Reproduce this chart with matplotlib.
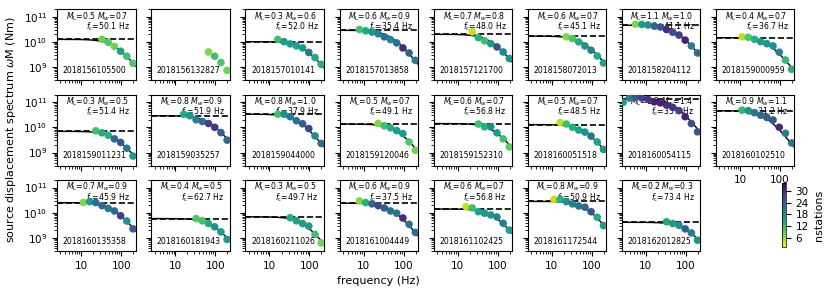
import numpy as np
import matplotlib
matplotlib.use("Agg")
import matplotlib.pyplot as plt
from matplotlib.colors import Normalize
from matplotlib.ticker import FuncFormatter, NullFormatter

# band centre frequencies (Hz) shared by all events
freqs = [2.7, 3.9, 5.5, 7.9, 11.3, 16.2, 23.1, 33.0, 47.2, 67.5, 96.5, 138, 197]

event_ids = ["2018156105500", "2018156132827", "2018157010141", "2018157013858",
             "2018157121700", "2018158072013", "2018158204112", "2018159000959",
             "2018159011231", "2018159035257", "2018159044000", "2018159120046",
             "2018159152310", "2018160051518", "2018160054115", "2018160102510",
             "2018160135358", "2018160181943", "2018160211026", "2018161004449",
             "2018161102425", "2018161172544", "2018162012825"]

ml = [0.5, None, 0.3, 0.6, 0.7, 0.6, 1.1, 0.4,
      0.3, 0.8, 0.8, 0.5, 0.6, 0.5, 1.3, 0.9,
      0.7, 0.4, 0.3, 0.6, 0.6, 0.8, 0.2]
mw = [0.7, None, 0.6, 0.9, 0.8, 0.7, 1.0, 0.7,
      0.5, 0.9, 1.0, 0.7, 0.7, 0.7, 1.4, 1.1,
      0.9, 0.5, 0.5, 0.9, 0.7, 0.9, 0.3]
fc = [50.1, None, 52.0, 35.4, 48.0, 45.1, 41.1, 36.7,
      51.4, 51.9, 37.9, 49.1, 56.8, 48.5, 35.8, 31.2,
      45.9, 62.7, 49.7, 37.5, 56.8, 50.9, 73.4]
# log10 of the plateau level (Nm)
omega0_log = [10.10, None, 10.01, 10.46, 10.30, 10.23, 10.66, 10.17,
              9.84, 10.46, 10.52, 10.13, 10.15, 10.11, 11.14, 10.66,
              10.40, 9.77, 9.84, 10.38, 10.15, 10.45, 9.62]

# log10 spectral values per event (highest bands, ending at 197 Hz)
spec_log = [
    [10.10, 9.98, 9.82, 9.63, 9.43, 9.15],
    [9.60, 9.43, 9.18, 8.87],
    [10.10, 10.01, 9.92, 9.84, 9.76, 9.58, 9.38, 9.11],
    [10.49, 10.44, 10.39, 10.32, 10.20, 10.09, 9.96, 9.76, 9.56, 9.27],
    [10.40, 10.17, 10.04, 9.93, 9.80, 9.60, 9.34],
    [10.20, 10.13, 10.00, 9.84, 9.67, 9.44, 9.16],
    [10.70, 10.69, 10.67, 10.63, 10.59, 10.49, 10.38, 10.27, 10.07, 9.84, 9.56],
    [10.20, 10.18, 10.10, 10.01, 9.93, 9.84, 9.59, 9.28, 8.91],
    [9.86, 9.78, 9.68, 9.54, 9.40, 9.17, 8.86],
    [10.52, 10.46, 10.30, 10.23, 10.15, 10.00, 9.79, 9.49],
    [10.52, 10.52, 10.42, 10.26, 10.14, 9.95, 9.66, 9.36],
    [10.15, 10.06, 9.98, 9.87, 9.75, 9.42, 9.09],
    [10.13, 10.02, 10.02, 9.78, 9.54, 9.22],
    [10.19, 10.13, 10.00, 9.89, 9.81, 9.65, 9.42, 9.12],
    [10.99, 11.16, 11.19, 11.16, 11.11, 11.01, 10.97, 10.88, 10.79, 10.66, 10.42, 10.15, 9.82],
    [10.68, 10.66, 10.58, 10.48, 10.39, 10.29, 10.00, 9.76, 9.38],
    [10.41, 10.44, 10.40, 10.28, 10.17, 10.07, 9.88, 9.67, 9.36],
    [9.77, 9.68, 9.57, 9.44, 9.24, 8.94],
    [9.80, 9.68, 9.57, 9.47, 9.14, 8.80],
    [10.47, 10.40, 10.35, 10.28, 10.19, 10.07, 9.98, 9.79, 9.54, 9.22],
    [10.24, 10.19, 10.04, 9.98, 9.91, 9.83, 9.58, 9.31],
    [10.53, 10.53, 10.44, 10.35, 10.27, 10.22, 10.04, 9.82, 9.49],
    [9.64, 9.57, 9.50, 9.36, 9.20, 8.91],
]

# number of stations per band
nsta = [
    [8, 10, 8, 15, 11, 10],
    [7, 11, 10, 8],
    [11, 16, 16, 15, 16, 21, 14, 13],
    [11, 14, 17, 19, 22, 19, 22, 30, 24, 20],
    [4, 13, 11, 16, 26, 19, 17],
    [7, 10, 14, 17, 20, 14, 15],
    [7, 15, 17, 23, 25, 30, 26, 28, 31, 20, 23],
    [4, 10, 13, 16, 17, 18, 20, 12, 13],
    [11, 14, 13, 23, 25, 21, 16],
    [14, 17, 20, 22, 28, 29, 24, 23],
    [11, 17, 20, 22, 24, 27, 18, 22],
    [7, 11, 13, 16, 16, 10, 8],
    [11, 13, 18, 16, 11, 9],
    [4, 11, 13, 15, 17, 21, 15, 17],
    [16, 20, 25, 28, 29, 31, 31, 30, 29, 28, 31, 26, 25],
    [12, 17, 21, 23, 24, 25, 30, 20, 21],
    [7, 16, 22, 23, 21, 23, 28, 17, 24],
    [10, 11, 14, 17, 16, 17],
    [14, 15, 16, 16, 11, 8],
    [7, 13, 23, 27, 24, 22, 21, 30, 21, 22],
    [4, 11, 15, 16, 17, 19, 20, 16],
    [4, 13, 18, 20, 22, 23, 25, 14, 16],
    [14, 16, 18, 24, 20, 17],
]

fig = plt.figure(figsize=(8.3, 2.93), dpi=100)
axes = fig.subplots(3, 8, sharex=True, sharey=True)
fig.subplots_adjust(left=0.069, right=0.957, top=0.969, bottom=0.143,
                    wspace=0.2, hspace=0.2)

cmap = plt.get_cmap("viridis_r")
norm = Normalize(vmin=1, vmax=34)
fmod = np.logspace(np.log10(2.5), np.log10(230), 200)

for i, eid in enumerate(event_ids):
    ax = axes.flat[i]
    vals = 10 ** np.array(spec_log[i])
    f = freqs[-len(vals):]
    if omega0_log[i] is not None:
        om = 10 ** omega0_log[i]
        # fitted source model as drawn in the figure
        ax.plot(fmod, om / (1 + 0.5 * (fmod / fc[i]) ** 2), color="k", lw=1, zorder=2)
        ax.axhline(om, color="k", ls="--", lw=1.2, zorder=2)
        ax.text(0.91, 0.86, r"$M_\mathrm{L}$=%.1f $M_w$=%.1f" % (ml[i], mw[i]),
                transform=ax.transAxes, ha="right", va="baseline", fontsize=5.6, zorder=1)
        ax.text(0.93, 0.715, r"$f_\mathrm{c}$=%.1f Hz" % fc[i],
                transform=ax.transAxes, ha="right", va="baseline", fontsize=5.6, zorder=1)
    ax.scatter(f, vals, c=nsta[i], cmap=cmap, norm=norm, s=30, edgecolors="none", zorder=3)
    ax.text(0.07, 0.105, eid, transform=ax.transAxes, ha="left", va="baseline", fontsize=5.6)

ax0 = axes[0, 0]
ax0.set_xscale("log")
ax0.set_yscale("log")
ax0.set_xlim(2.5, 230)
ax0.set_ylim(3e8, 2e11)
ax0.xaxis.set_major_formatter(FuncFormatter(lambda v, p: "%g" % v))
ax0.xaxis.set_minor_formatter(NullFormatter())
for ax in axes.flat:
    ax.tick_params(labelsize=7.5)

fig.delaxes(axes[2, 7])
axes[1, 7].xaxis.set_tick_params(labelbottom=True)

axes[1, 0].set_ylabel(r"source displacement spectrum $\omega$M (Nm)", fontsize=8)
axes[2, 3].set_xlabel("frequency (Hz)", fontsize=8)

cax = fig.add_axes([0.942, 0.156, 0.0048, 0.218])
sm = plt.cm.ScalarMappable(norm=norm, cmap=cmap)
cb = fig.colorbar(sm, cax=cax, ticks=[6, 12, 18, 24, 30])
cb.ax.tick_params(labelsize=7.5)
cb.set_label("nstations", fontsize=8)
cb.outline.set_linewidth(0.5)

fig.savefig("out.png", dpi=100)
